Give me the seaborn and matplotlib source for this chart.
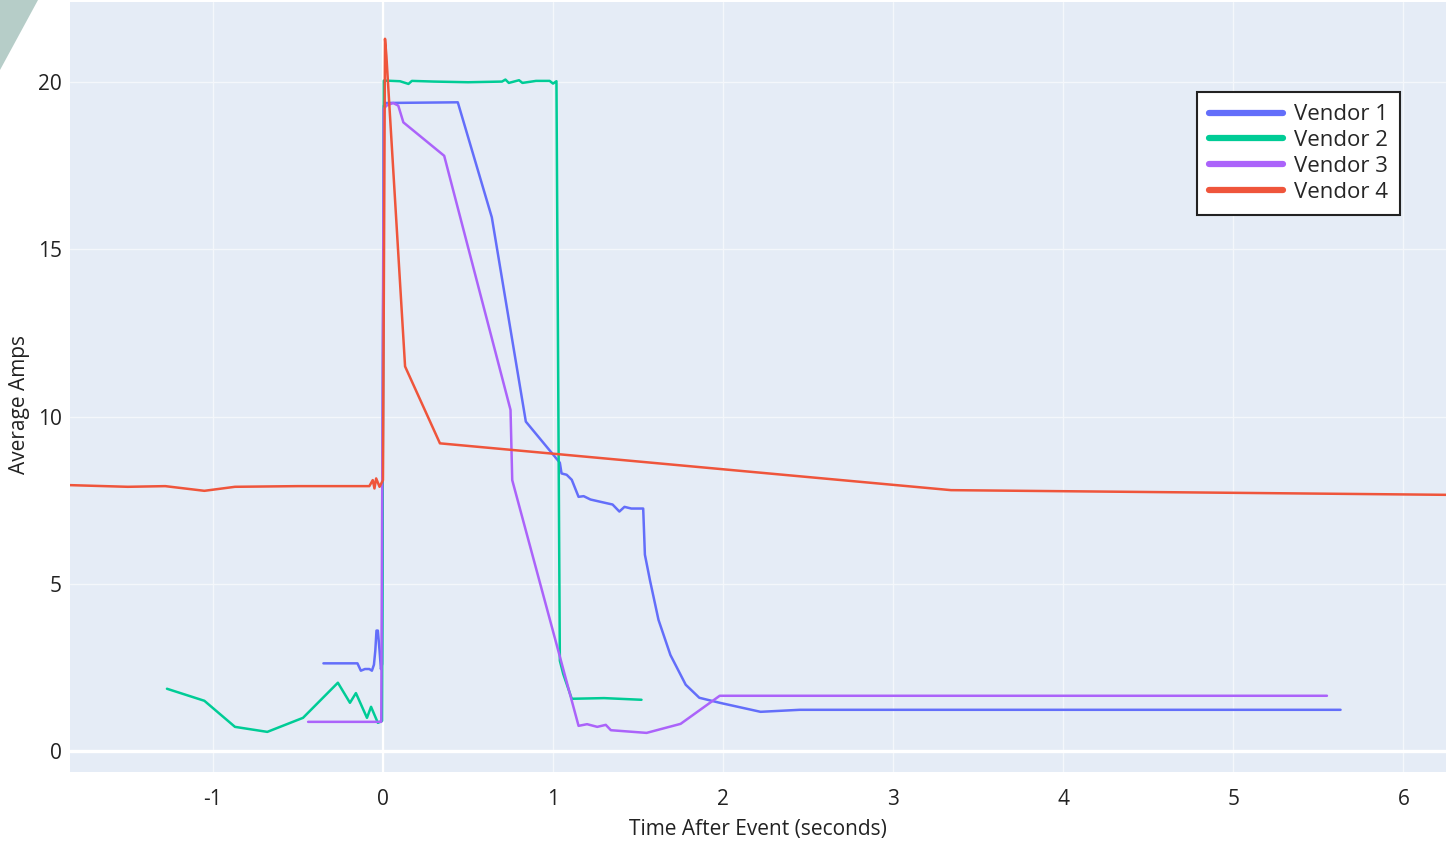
import pandas as pd
import matplotlib.pyplot as plt
import matplotlib.patches as mpatches
import seaborn as sns

# Vendor 1 (blue)
t1 = [-0.35, -0.15, -0.13, -0.106, -0.08, -0.065, -0.053, -0.045, -0.038, -0.03, -0.02, -0.012, -0.005,
      0.005, 0.02, 0.44, 0.64, 0.84, 1.04, 1.05, 1.08, 1.11, 1.15, 1.18, 1.22, 1.28, 1.35, 1.39, 1.42,
      1.46, 1.53, 1.54, 1.57, 1.62, 1.69, 1.78, 1.86, 1.98, 2.22, 2.45, 5.63]
a1 = [2.62, 2.62, 2.4, 2.45, 2.45, 2.4, 2.58, 3.0, 3.6, 3.6, 3.0, 2.45, 2.6,
      19.3, 19.38, 19.4, 15.96, 9.85, 8.62, 8.3, 8.26, 8.11, 7.6, 7.62, 7.52, 7.45, 7.37, 7.16, 7.3,
      7.25, 7.25, 5.87, 5.1, 3.92, 2.87, 1.98, 1.59, 1.44, 1.17, 1.23, 1.23]

# Vendor 2 (green)
t2 = [-1.27, -1.05, -0.87, -0.68, -0.47, -0.265, -0.194, -0.159, -0.094, -0.07, -0.03, -0.005,
      0.005, 0.1, 0.15, 0.17, 0.3, 0.5, 0.7, 0.72, 0.74, 0.8, 0.82, 0.9, 0.98, 1.0, 1.02, 1.04, 1.06,
      1.11, 1.3, 1.52]
a2 = [1.86, 1.5, 0.72, 0.57, 0.99, 2.04, 1.44, 1.73, 0.99, 1.32, 0.84, 0.9,
      20.05, 20.03, 19.95, 20.04, 20.02, 20.0, 20.02, 20.08, 19.98, 20.06, 19.98, 20.04, 20.04, 19.96,
      20.03, 2.7, 2.3, 1.56, 1.58, 1.53]

# Vendor 3 (purple)
t3 = [-0.44, -0.01, 0.005, 0.02, 0.06, 0.09, 0.12, 0.36, 0.75, 0.76, 1.15, 1.2, 1.26, 1.31, 1.34,
      1.55, 1.75, 1.98, 5.55]
a3 = [0.87, 0.87, 19.2, 19.3, 19.38, 19.3, 18.8, 17.8, 10.2, 8.1, 0.75, 0.8, 0.72, 0.78, 0.62,
      0.54, 0.81, 1.65, 1.65]

# Vendor 4 (red)
t4 = [-1.84, -1.5, -1.28, -1.05, -0.87, -0.5, -0.08, -0.06, -0.05, -0.04, -0.02, -0.01, 0.0,
      0.012, 0.02, 0.13, 0.335, 3.34, 6.25]
a4 = [7.95, 7.9, 7.92, 7.78, 7.9, 7.92, 7.92, 8.1, 7.85, 8.15, 7.9, 8.0, 8.1,
      21.3, 20.8, 11.5, 9.2, 7.8, 7.66]

vendors = ["Vendor 1", "Vendor 2", "Vendor 3", "Vendor 4"]
colors = {"Vendor 1": "#636EFA", "Vendor 2": "#00CC96", "Vendor 3": "#AB63FA", "Vendor 4": "#EF553B"}

frames = []
for name, t, a in zip(vendors, [t1, t2, t3, t4], [a1, a2, a3, a4]):
    frames.append(pd.DataFrame({"time": t, "amps": a, "vendor": name}))
df = pd.concat(frames, ignore_index=True)

sns.set_theme(style="darkgrid", rc={"axes.facecolor": "#E5ECF6", "grid.color": "#F4F7FB",
                                    "grid.linewidth": 1.0})
plt.rcParams["font.family"] = ["Open Sans", "DejaVu Sans"]
plt.rcParams["axes.unicode_minus"] = False

fig = plt.figure(figsize=(14.46, 8.44), dpi=100)
ax = fig.add_axes([70 / 1446, 1 - 772 / 844, 1 - 70 / 1446, (772 - 2) / 844])

ax.axhline(0, color="white", lw=2.4, zorder=1)
ax.axvline(0, color="white", lw=1.6, zorder=1)

sns.lineplot(data=df, x="time", y="amps", hue="vendor", palette=colors, sort=False,
             estimator=None, lw=1.8, ax=ax, zorder=3)

ax.set_xlim(-1.84, 6.25)
ax.set_ylim(-0.63, 22.4)
ax.set_xticks(range(-1, 7))
ax.set_yticks([0, 5, 10, 15, 20])
ax.tick_params(axis="both", labelsize=15, colors="#222222", length=0)
ax.tick_params(axis="x", pad=12)
ax.tick_params(axis="y", pad=6)
ax.set_xlabel("Time After Event (seconds)", fontsize=15, color="#222222", labelpad=7)
ax.set_ylabel("Average Amps", fontsize=15, color="#222222")
ax.yaxis.set_label_coords(-0.029, 0.477)
for s in ax.spines.values():
    s.set_visible(False)

leg = ax.legend(loc="upper right", bbox_to_anchor=(0.9666, 0.883), borderaxespad=0,
                fontsize=16, frameon=True, fancybox=False, handlelength=3.3,
                labelspacing=0.22, borderpad=0.55, handletextpad=0.5, title=None)
leg.get_frame().set_edgecolor("#222222")
leg.get_frame().set_linewidth(1.5)
leg.get_frame().set_facecolor("white")
leg.get_frame().set_alpha(1)
for line in leg.get_lines():
    line.set_linewidth(4.5)

# corner decoration
tri = mpatches.Polygon([(0, 1), (38 / 1446, 1), (0, 1 - 70 / 844)], closed=True,
                       transform=fig.transFigure, facecolor="#B6CDC8", edgecolor="none")
fig.patches.append(tri)

fig.savefig("out.png", dpi=100)
